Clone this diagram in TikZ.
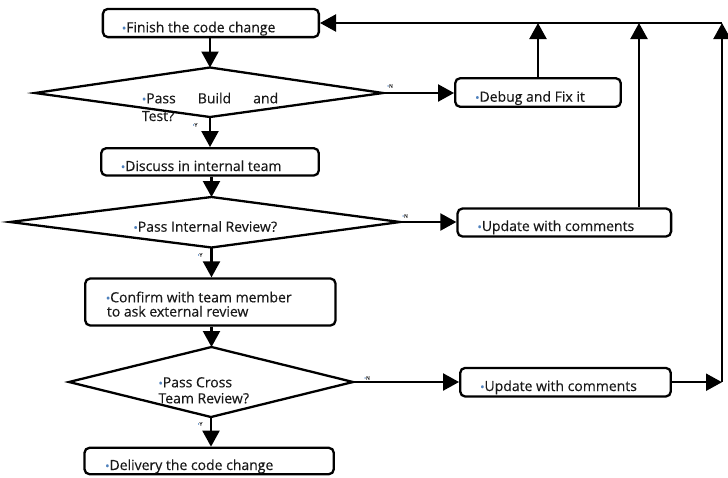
\documentclass[tikz,border=0pt]{standalone}
\usepackage{fontspec}
\setmainfont{Open Sans}[FakeBold=0.35]
\usetikzlibrary{arrows.meta}
\definecolor{bulblue}{HTML}{4F81BD}
\newcommand\bul{{\fontsize{11.5}{11.5}\selectfont\textcolor{bulblue}{•}}}
\newcommand\tinylab[1]{{\fontsize{5}{5}\selectfont\textcolor{bulblue}{•}\textcolor{black!80}{#1}}}
\tikzset{
  box/.style={draw, line width=2.3pt, rounded corners=5pt, inner sep=0pt, fill=white},
  dia/.style={draw, line width=2.3pt, line join=miter},
  arr/.style={line width=2.2pt, -{Triangle[length=16pt,width=17pt]}},
  txt/.style={anchor=base west, inner sep=0pt, font=\fontsize{14}{16}\selectfont, text=black!90},
  lab/.style={inner sep=0pt}
}
\begin{document}
\begin{tikzpicture}[x=1pt,y=-1pt]
\useasboundingbox (0,0) rectangle (728,477);
% boxes
\node[box, minimum width=216pt, minimum height=28.2pt] (b1) at (210.85,23) {};
\node[box, minimum width=165.6pt, minimum height=28.6pt] (dbg) at (538,92.5) {};
\node[box, minimum width=217.6pt, minimum height=27.3pt] (b2) at (210,161.85) {};
\node[box, minimum width=213.6pt, minimum height=28pt] (u1) at (564.3,222.5) {};
\node[box, minimum width=250.3pt, minimum height=47pt] (b3) at (210.35,302) {};
\node[box, minimum width=210.6pt, minimum height=28.6pt] (u2) at (565.5,382.2) {};
\node[box, minimum width=249.3pt, minimum height=26.4pt] (b5) at (209.15,461) {};
% diamond vertices
\coordinate (d1n) at (210,67.5); \coordinate (d1e) at (383,93);
\coordinate (d1s) at (210,117);  \coordinate (d1w) at (35,93);
\coordinate (d2n) at (211.5,197); \coordinate (d2e) at (400,222);
\coordinate (d2s) at (211.5,247.5); \coordinate (d2w) at (10,222);
\coordinate (d3n) at (211.5,347); \coordinate (d3e) at (353,382);
\coordinate (d3s) at (211,417);  \coordinate (d3w) at (69,382);
% texts
\node[txt] (t1) at (121.7,32.3) {\bul Finish the code change};
\node[txt] (tdbg) at (475,101.7) {\bul Debug and Fix it};
\node[txt] (td1a) at (141.7,103.3) {\hbox to 136.3pt{\bul Pass\hfill Build\hfill and}};
\node[txt] (td1b) at (141.7,121) {Test?};
\node[txt] (t2) at (120.7,171) {\bul Discuss in internal team};
\node[txt] (td2) at (133.3,231.7) {\bul Pass Internal Review?};
\node[txt] (tu1) at (477.3,231) {\bul Update with comments};
\node[txt] (t3a) at (105.7,302.3) {\bul Confirm with team member};
\node[txt] (t3b) at (106.7,316.5) {to ask external review};
\node[txt] (td3a) at (158.3,387.3) {\bul Pass Cross};
\node[txt] (td3b) at (158.3,403.3) {Team Review?};
\node[txt] (tu2) at (480,391) {\bul Update with comments};
\node[txt] (t5) at (105,470) {\bul Delivery the code change};
% diamonds
\draw[dia] (d1n) -- (d1e) -- (d1s) -- (d1w) -- cycle;
\draw[dia] (d2n) -- (d2e) -- (d2s) -- (d2w) -- cycle;
\draw[dia] (d3n) -- (d3e) -- (d3s) -- (d3w) -- cycle;
% small labels
\node[lab] (y1) at (195,125) {\tinylab{Y}};
\node[lab] (n1) at (390,86) {\tinylab{N}};
\node[lab] (y2) at (200,255) {\tinylab{Y}};
\node[lab] (n2) at (405,216) {\tinylab{N}};
\node[lab] (y3) at (200,424) {\tinylab{Y}};
\node[lab] (n3) at (367,378) {\tinylab{N}};
% feedback coordinates
\coordinate (tr) at (722,23);
\coordinate (cr) at (722,382.2);
\coordinate (c2) at (639,23);
% main flow
\draw[arr] (b1.south -| d1n) -- (d1n);
\draw[arr] (d1s) -- (d1s |- b2.north);
\draw[arr] (b2.south -| d2n) -- (d2n);
\draw[arr] (d2s) -- (d2s |- b3.north);
\draw[arr] (b3.south -| d3n) -- (d3n);
\draw[arr] (d3s) -- (d3s |- b5.north);
% no branches
\draw[arr] (d1e) -- (d1e -| dbg.west);
\draw[arr] (d2e) -- (d2e -| u1.west);
\draw[arr] (d3e) -- (d3e -| u2.west);
% feedback
\draw[arr] (u2.east) -- (cr);
\draw[arr] (cr) -- (tr);
\draw[arr] (tr) -- (tr -| b1.east);
\draw[arr] (dbg.north) -- (dbg.north |- tr);
\draw[arr] (c2 |- u1.north) -- (c2);
\end{tikzpicture}
\end{document}
